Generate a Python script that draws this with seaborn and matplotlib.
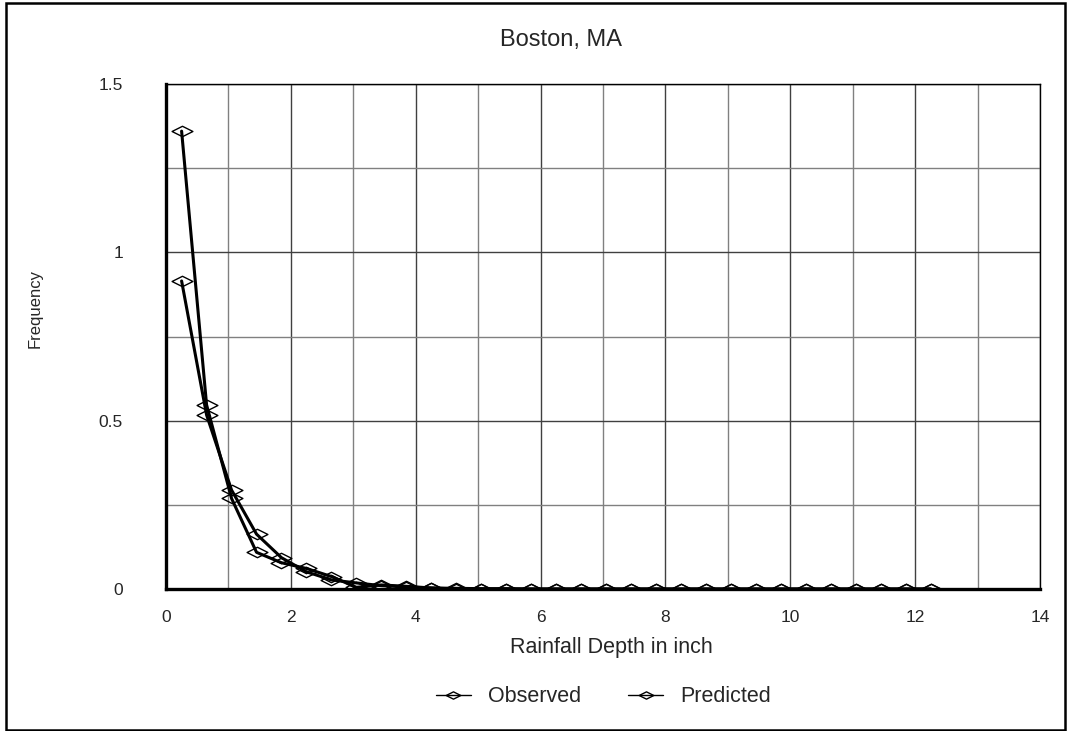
import pandas as pd
import matplotlib.pyplot as plt
import seaborn as sns
from matplotlib.path import Path
from matplotlib.patches import Rectangle

# data
depth = [0.25, 0.65, 1.05, 1.45, 1.85, 2.25, 2.65, 3.05, 3.45, 3.85, 4.25,
         4.65, 5.05, 5.45, 5.85, 6.25, 6.65, 7.05, 7.45, 7.85, 8.25, 8.65,
         9.05, 9.45, 9.85, 10.25, 10.65, 11.05, 11.45, 11.85, 12.25]
observed = [1.36, 0.547, 0.269, 0.109, 0.078, 0.061, 0.037, 0.005, 0.012, 0.008, 0.003,
            0, 0, 0, 0, 0, 0, 0, 0, 0, 0, 0,
            0, 0, 0, 0, 0, 0, 0, 0, 0]
predicted = [0.915, 0.517, 0.294, 0.163, 0.093, 0.051, 0.027, 0.018, 0.01, 0.006, 0.003,
             0.002, 0.001, 0.001, 0, 0, 0, 0, 0, 0, 0, 0,
             0, 0, 0, 0, 0, 0, 0, 0, 0]
x_ticks = [0, 2, 4, 6, 8, 10, 12, 14]
y_ticks = [0, 0.5, 1, 1.5]
y_tick_labels = ['0', '0.5', '1', '1.5']

df = pd.DataFrame({'depth': depth, 'Observed': observed, 'Predicted': predicted})

sns.set_style('white')
plt.rcParams['font.family'] = ['Liberation Sans', 'DejaVu Sans']

# flat diamond marker like the excel one
diamond = Path([(-1, 0), (0, 0.5), (1, 0), (0, -0.5), (-1, 0)],
               [Path.MOVETO, Path.LINETO, Path.LINETO, Path.LINETO, Path.CLOSEPOLY])

fig = plt.figure(figsize=(10.68, 7.31), dpi=100)
ax = fig.add_axes([166 / 1068, 1 - 589 / 731, 874 / 1068, 505 / 731])

for col in ['Observed', 'Predicted']:
    sns.lineplot(x='depth', y=col, data=df, ax=ax, color='black', label=col,
                 marker=diamond, markersize=15, mfc='none', mec='black',
                 mew=1.0, linewidth=2.2, legend=False)

ax.set_xlim(0, 14)
ax.set_ylim(0, 1.5)
ax.set_xticks(x_ticks)
ax.set_xticklabels([str(t) for t in x_ticks])
ax.set_xticks(range(0, 15), minor=True)
ax.set_yticks(y_ticks)
ax.set_yticklabels(y_tick_labels)
ax.set_yticks([0.25, 0.75, 1.25], minor=True)
ax.grid(True, which='major', color='#404040', linewidth=1)
ax.grid(True, which='minor', color='#808080', linewidth=1)
ax.set_axisbelow(True)
ax.tick_params(axis='both', which='both', length=0, labelsize=12.5)
ax.tick_params(axis='y', pad=31)
ax.tick_params(axis='x', pad=15)

for side in ['left', 'bottom']:
    ax.spines[side].set_linewidth(2.4)
    ax.spines[side].set_color('black')
for side in ['top', 'right']:
    ax.spines[side].set_linewidth(1)
    ax.spines[side].set_color('black')

ax.set_xlabel('Rainfall Depth in inch', fontsize=15.5)
ax.xaxis.set_label_coords(0.510, -0.115)
ax.xaxis.label.set_va('center')
ax.set_ylabel('Frequency', fontsize=12)
ax.yaxis.set_label_coords(-0.150, 0.556)
ax.yaxis.label.set_va('center')

fig.text(561 / 1068, 1 - 40 / 731, 'Boston, MA', ha='center', va='center', fontsize=17)

handles, labels = ax.get_legend_handles_labels()
leg = fig.legend(handles, labels, loc='center', bbox_to_anchor=(0.565, 0.047),
                 ncol=2, frameon=False, fontsize=15.5, handlelength=1.6,
                 columnspacing=2.2, handletextpad=0.8, markerscale=0.7)
for h in leg.legend_handles:
    h.set_linewidth(1)

# outer chart border
fig.patches.append(Rectangle((6 / 1068, 1.5 / 731), 1059 / 1068, 727 / 731,
                             transform=fig.transFigure, fill=False,
                             edgecolor='black', linewidth=1.8))

plt.savefig('out.png', dpi=100)
